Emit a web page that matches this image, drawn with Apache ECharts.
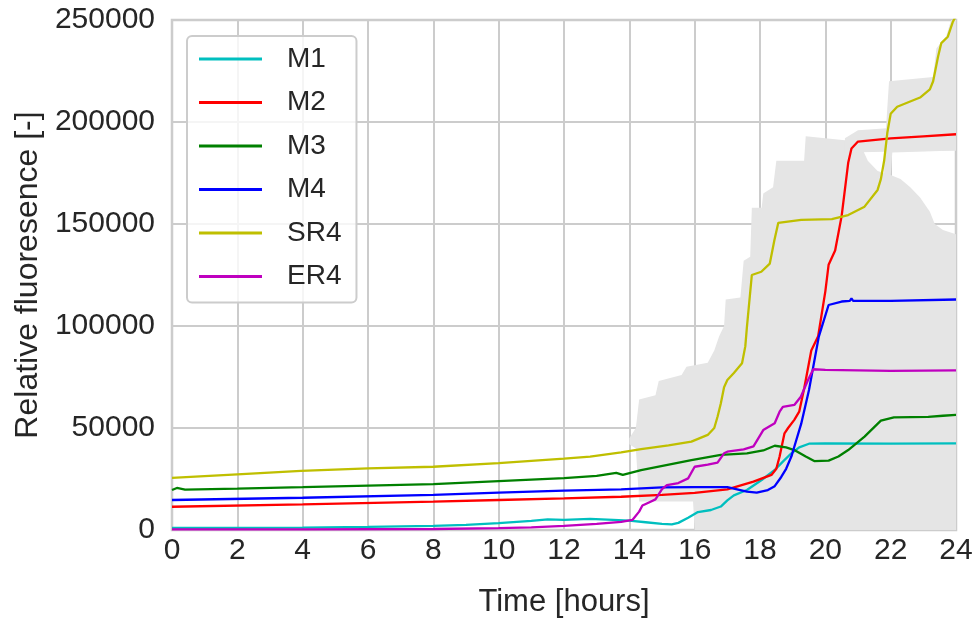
<!DOCTYPE html>
<html>
<head>
<meta charset="utf-8">
<script src="https://cdn.jsdelivr.net/npm/echarts@6/dist/echarts.min.js"></script>
<style>html,body{margin:0;padding:0;background:#fff;}#c{width:979px;height:619px;}</style>
</head>
<body>
<div id="c"></div>
<script>
// ---- data (hours, relative fluorescence) ----
const seriesNames = ['M1','M2','M3','M4','SR4','ER4'];
const xTicks = [0,2,4,6,8,10,12,14,16,18,20,22,24];
const yTicks = [0,50000,100000,150000,200000,250000];

const M1 = [[0,1000],[2,1000],[4,1200],[6,1500],[8,2000],[9,2500],[10,3400],[11,4500],[11.5,5200],[12,5000],[12.8,5500],[13.5,5000],[14,4600],[14.5,3800],[15,3000],[15.3,2800],[15.5,3500],[15.8,6000],[16.1,8800],[16.5,9800],[16.8,11500],[17.0,14500],[17.2,17000],[17.6,19600],[18.05,24500],[18.45,29400],[18.7,33500],[18.96,37600],[19.2,40500],[19.5,42300],[20,42500],[22,42300],[24,42500]];
const M2 = [[0,11400],[4,12600],[8,13900],[10,14700],[12,15500],[13.75,16300],[15,17200],[16,18200],[17,19900],[17.8,23700],[18.35,27000],[18.5,30000],[18.6,36000],[18.75,47400],[18.86,50000],[19.05,54000],[19.2,58000],[19.36,70000],[19.57,88000],[19.78,95000],[20.0,117000],[20.1,130000],[20.3,137000],[20.5,154000],[20.7,180000],[20.8,187000],[21.0,190400],[22,192000],[23,193000],[24,194000]];
const M3 = [[0,19600],[0.15,20600],[0.4,19800],[2,20300],[4,21000],[6,21800],[8,22500],[10,24000],[12,25400],[13,26500],[13.6,28000],[13.8,27000],[14.36,29400],[15.9,34300],[16.8,36800],[17.6,37600],[18.1,39000],[18.45,41300],[18.8,40500],[19.05,39200],[19.4,36000],[19.66,33800],[20.1,34000],[20.4,36000],[20.7,39200],[21.2,45800],[21.7,53600],[22.1,55200],[23.15,55500],[23.6,56000],[24,56400]];
const M4 = [[0,14700],[4,15800],[8,17200],[10,18300],[12,19300],[13.75,19900],[15,20900],[16,21000],[17,21000],[17.6,18800],[17.9,18300],[18.24,19600],[18.45,21500],[18.65,26000],[18.8,30000],[18.96,36000],[19.05,40800],[19.26,52000],[19.5,68600],[19.8,94800],[20.1,110300],[20.5,112000],[20.75,112300],[20.8,113500],[20.85,112300],[22,112300],[24,113000]];
const SR4 = [[0,25600],[2,27300],[3.95,29000],[6,30200],[8,31000],[10,32800],[12,35000],[12.8,36000],[13.75,38000],[14.36,39600],[15.2,41500],[15.9,43300],[16.4,46600],[16.6,50000],[16.7,55500],[16.8,62000],[16.9,70000],[17.0,73500],[17.2,77000],[17.45,81700],[17.55,90000],[17.6,99600],[17.75,125000],[18.04,126600],[18.3,130600],[18.44,142000],[18.56,150600],[19.26,152000],[20.2,152400],[20.7,154400],[21.2,158500],[21.6,166700],[21.7,172000],[21.8,181000],[21.9,195000],[22.0,204000],[22.2,207500],[22.9,212000],[23.2,216000],[23.3,220000],[23.45,232000],[23.55,238700],[23.75,241800],[23.9,249000],[24,252000]];
const ER4 = [[0,300],[4,300],[8,500],[10,900],[11,1300],[12,2000],[13,3000],[13.75,4000],[14.1,5000],[14.3,9000],[14.4,12000],[14.6,13500],[14.8,15000],[15.0,20000],[15.15,22000],[15.5,23000],[15.8,25300],[16.0,31000],[16.4,32000],[16.7,33000],[16.9,37600],[17.0,38400],[17.5,39500],[17.8,41000],[18.1,49000],[18.45,52300],[18.6,58000],[18.7,60400],[19.05,61300],[19.25,65300],[19.47,73500],[19.63,78800],[20,78500],[22,78000],[24,78200]];

// grey spread bands: upper and lower edges
const bandAUpper = [[14.0,45000],[14.2,50000],[14.3,64000],[14.8,66000],[14.9,73000],[15.6,76000],[15.75,80000],[16.4,82000],[16.6,88000],[16.75,95000],[16.9,100000],[16.95,113000],[17.4,114000],[17.5,132000],[17.7,134000],[17.75,158000],[18.05,158000],[18.1,165000],[18.4,168000],[18.5,181000],[19.35,181000],[19.4,193000],[20.6,191000],[21.1,188000],[21.3,181000],[21.6,176000],[22.0,174000],[22.3,172000],[22.6,168000],[22.9,163000],[23.2,156000],[23.35,150000],[23.6,147000],[24,145000]];
const bandALower = [[14.0,42000],[14.2,40000],[14.3,14000],[15.95,14000],[16.0,0],[24,0]];
const bandRUpper = [[20.6,192000],[21,196000],[22,197000],[23,199000],[24,200000]];
const bandRLower = [[20.6,185000],[24,186000]];
const bandYUpper = [[21.8,183000],[21.95,220000],[23.3,222000],[23.4,236000],[23.7,242000],[23.85,250000],[24,250000]];
const bandYLower = [[21.8,173000],[22.0,173000],[22.05,185000],[24,186000]];

const colors = ['#00bfbf','#ff0000','#008000','#0000ff','#bfbf00','#bf00bf'];
const lineData = [M1,M2,M3,M4,SR4,ER4];
const bands = [[bandAUpper,bandALower],[bandRUpper,bandRLower],[bandYUpper,bandYLower]];

const FONT = 'Liberation Sans, Arial, sans-serif';
const TXT = '#262626';

function bandSeries(upper, lower){
  return {
    type:'custom', z:1, silent:true, clip:true, animation:false,
    data:[0],
    renderItem:function(params, api){
      const pts = [];
      upper.forEach(p => pts.push(api.coord(p)));
      for (let i = lower.length-1; i >= 0; i--) pts.push(api.coord(lower[i]));
      return {type:'polygon', shape:{points:pts}, style:{fill:'#e5e5e5', stroke:null}};
    }
  };
}

const series = [];
bands.forEach(b => series.push(bandSeries(b[0], b[1])));
seriesNames.forEach((n,i) => series.push({
  name:n, type:'line', data:lineData[i], showSymbol:false, z:3,
  lineStyle:{color:colors[i], width:2.3}, itemStyle:{color:colors[i]},
  animation:false, clip:true
}));

const chart = echarts.init(document.getElementById('c'), null, {renderer:'canvas'});
chart.setOption({
  backgroundColor:'#ffffff',
  animation:false,
  grid:{left:172, right:23, top:20, bottom:89, containLabel:false, outerBoundsMode:'none',
        show:true, borderColor:'#cccccc', borderWidth:2.5, backgroundColor:'transparent'},
  xAxis:{
    type:'value', min:xTicks[0], max:xTicks[xTicks.length-1], interval:xTicks[1]-xTicks[0],
    name:'Time [hours]', nameLocation:'middle', nameGap:57,
    nameTextStyle:{fontSize:31, color:TXT, fontFamily:FONT},
    axisLine:{show:false}, axisTick:{show:false},
    axisLabel:{fontSize:30, color:TXT, fontFamily:FONT, margin:6, formatter:v => String(v)},
    splitLine:{show:true, lineStyle:{color:'#cccccc', width:2}}
  },
  yAxis:{
    type:'value', min:yTicks[0], max:yTicks[yTicks.length-1], interval:yTicks[1]-yTicks[0],
    name:'Relative fluoresence [-]', nameLocation:'middle', nameGap:126,
    nameTextStyle:{fontSize:32, color:TXT, fontFamily:FONT},
    axisLine:{show:false}, axisTick:{show:false},
    axisLabel:{fontSize:30, color:TXT, fontFamily:FONT, margin:17, formatter:v => String(v)},
    splitLine:{show:true, lineStyle:{color:'#cccccc', width:2}}
  },
  legend:{
    data:seriesNames, orient:'vertical', left:187, top:36,
    padding:[8,15,11,12], itemGap:13.5, itemWidth:63, itemHeight:3, icon:'rect',
    backgroundColor:'rgba(255,255,255,0.8)', borderColor:'#cccccc', borderWidth:2, borderRadius:5,
    textStyle:{fontSize:28, lineHeight:30, color:TXT, fontFamily:FONT, padding:[0,0,0,20]}
  },
  series:series
});
</script>
</body>
</html>
